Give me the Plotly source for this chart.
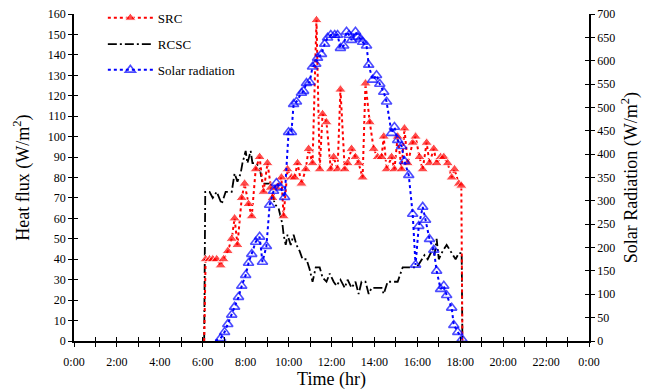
import plotly.graph_objects as go

# ---------------- data ----------------
hour_ticks = list(range(0, 25))
hour_labels = ["0:00", "", "2:00", "", "4:00", "", "6:00", "", "8:00", "", "10:00", "",
               "12:00", "", "14:00", "", "16:00", "", "18:00", "", "20:00", "", "22:00", "", "0:00"]

src_time = ["6:04", "6:08", "6:19", "6:28", "6:39", "6:50", "6:58", "7:10", "7:21", "7:29",
            "7:37", "7:49", "7:57", "8:08", "8:17", "8:28", "8:39", "8:50", "9:01", "9:10",
            "9:15", "9:26", "9:40", "9:46", "9:57", "10:08", "10:17", "10:25", "10:36", "10:48",
            "10:56", "11:07", "11:18", "11:27", "11:35", "11:46", "11:58", "12:06", "12:17", "12:25",
            "12:37", "12:45", "12:56", "13:07", "13:16", "13:27", "13:35", "13:47", "13:58", "14:09",
            "14:20", "14:26", "14:34", "14:48", "14:56", "15:05", "15:16", "15:24", "15:33", "15:47",
            "15:55", "16:06", "16:15", "16:26", "16:34", "16:46", "16:54", "17:05", "17:14", "17:25",
            "17:36", "17:44", "17:56", "18:03", "18:06"]
src_vals = [0, 40, 40, 40, 40, 37, 40, 44, 50, 60,
            47, 70, 77, 67, 61, 84, 90, 73, 87, 75,
            70, 75, 80, 61, 84, 80, 80, 87, 77, 84,
            94, 87, 157, 84, 111, 107, 84, 90, 84, 123,
            84, 87, 94, 90, 87, 80, 126, 107, 94, 90,
            90, 100, 84, 90, 84, 100, 84, 104, 87, 97,
            100, 90, 84, 97, 87, 94, 87, 90, 90, 87,
            80, 84, 77, 76, 0]

rcsc_time = ["6:04", "6:07", "6:19", "6:28", "6:39", "6:53", "7:04", "7:15", "7:21", "7:29",
             "7:37", "7:46", "7:51", "8:00", "8:05", "8:14", "8:19", "8:28", "8:39", "8:47",
             "8:58", "9:10", "9:15", "9:21", "9:32", "9:43", "9:46", "9:52", "9:57", "10:06",
             "10:14", "10:22", "10:31", "10:39", "10:50", "10:59", "11:07", "11:16", "11:27", "11:35",
             "11:46", "11:55", "12:06", "12:14", "12:25", "12:37", "12:45", "12:56", "13:07", "13:16",
             "13:24", "13:35", "13:44", "13:52", "14:06", "14:20", "14:26", "14:37", "15:05", "15:19",
             "15:30", "15:44", "15:58", "16:06", "16:20", "16:29", "16:43", "16:48", "16:54", "17:00",
             "17:11", "17:22", "17:36", "17:47", "17:56", "18:04", "18:06"]
rcsc_vals = [0, 73, 73, 70, 73, 67, 73, 73, 73, 82,
             78, 82, 87, 93, 87, 93, 87, 87, 85, 77,
             77, 77, 73, 67, 65, 57, 52, 47, 52, 47,
             52, 47, 44, 40, 40, 35, 29, 36, 36, 31,
             29, 33, 29, 27, 30, 26, 30, 26, 29, 23,
             29, 29, 23, 26, 26, 26, 23, 29, 29, 36,
             36, 36, 36, 38, 42, 40, 45, 42, 50, 40,
             44, 47, 43, 40, 43, 43, 0]

solar_time = ["6:35", "6:50", "7:01", "7:10", "7:21", "7:29", "7:40", "7:49", "8:00", "8:08",
              "8:17", "8:28", "8:39", "8:47", "8:58", "9:07", "9:18", "9:26", "9:38", "9:49",
              "10:00", "10:08", "10:14", "10:22", "10:36", "10:42", "10:50", "10:59", "11:07", "11:16",
              "11:21", "11:32", "11:41", "11:49", "11:58", "12:09", "12:17", "12:25", "12:34", "12:42",
              "12:49", "12:56", "13:07", "13:13", "13:21", "13:27", "13:38", "13:44", "13:55", "14:06",
              "14:15", "14:26", "14:34", "14:48", "14:56", "15:05", "15:16", "15:24", "15:36", "15:47",
              "15:55", "16:04", "16:15", "16:23", "16:34", "16:46", "16:54", "17:05", "17:14", "17:22",
              "17:36", "17:42", "17:53", "18:05"]
solar_vals = [0, 6, 19, 36, 56, 73, 94, 118, 141, 167,
              186, 212, 223, 169, 203, 291, 321, 338, 328, 308,
              447, 447, 507, 512, 531, 535, 552, 554, 587, 593,
              606, 614, 636, 649, 655, 655, 655, 627, 632, 662,
              655, 644, 662, 651, 647, 640, 632, 591, 559, 569,
              550, 533, 512, 445, 458, 430, 417, 385, 355, 272,
              163, 246, 287, 259, 218, 195, 150, 111, 118, 98,
              71, 34, 19, 4]


def hrs(t):
    h, m = t.split(":")
    return int(h) + int(m) / 60.0


FONT = "Liberation Serif"

src_sizes = [0] + [10] * (len(src_vals) - 2) + [0]
solar_sizes = [0] + [9] * (len(solar_vals) - 1)

fig = go.Figure()

fig.add_trace(go.Scatter(
    x=[hrs(t) for t in rcsc_time], y=rcsc_vals, name="RCSC", mode="lines",
    line=dict(color="black", width=1.8, dash="9px,3px,2px,3px"),
    legend="legend2", xaxis="x", yaxis="y"))

fig.add_trace(go.Scatter(
    x=[hrs(t) for t in solar_time], y=solar_vals, name="Solar radiation", mode="lines+markers",
    line=dict(color="#0000FF", width=2, dash="3px,3px"),
    marker=dict(symbol="triangle-up-open", size=solar_sizes, color="#0000FF",
                line=dict(width=1.6, color="#0000FF")),
    legend="legend3", xaxis="x", yaxis="y2"))

fig.add_trace(go.Scatter(
    x=[hrs(t) for t in src_time], y=src_vals, name="SRC", mode="lines+markers",
    line=dict(color="#FF0000", width=2, dash="3px,3px"),
    marker=dict(symbol="triangle-up", size=src_sizes, color="#FF0000"),
    legend="legend", xaxis="x", yaxis="y"))

# empty helper traces for the inner half of crossing ticks
fig.add_trace(go.Scatter(x=[], y=[], xaxis="x2", yaxis="y3", showlegend=False, hoverinfo="skip"))
fig.add_trace(go.Scatter(x=[], y=[], xaxis="x2", yaxis="y4", showlegend=False, hoverinfo="skip"))

tickfont = dict(family=FONT, size=12, color="black")

fig.update_layout(
    width=649, height=391,
    margin=dict(l=74, r=60, t=14, b=50, autoexpand=False),
    paper_bgcolor="white", plot_bgcolor="white",
    font=dict(family=FONT, color="black"),
    xaxis=dict(range=[0, 24], tickvals=hour_ticks, ticktext=hour_labels,
               ticks="outside", ticklen=4, tickwidth=1.3, tickcolor="black",
               showline=True, linecolor="black", linewidth=1.5, showgrid=False,
               zeroline=False, tickfont=tickfont, ticklabelstandoff=5, automargin=False,
               title=dict(text="Time (hr)", font=dict(family=FONT, size=18), standoff=4)),
    xaxis2=dict(range=[0, 24], overlaying="x", anchor="y", tickvals=hour_ticks,
                ticks="inside", ticklen=4, tickwidth=1.3, tickcolor="black",
                showticklabels=False, showline=False, showgrid=False, zeroline=False),
    yaxis=dict(range=[0, 160], dtick=10, tick0=0, ticks="outside", ticklen=4, tickwidth=1.3,
               tickcolor="black", showline=True, linecolor="black", linewidth=1.5,
               showgrid=False, zeroline=False, tickfont=tickfont, automargin=False,
               title=dict(text="Heat flux (W/m<sup>2</sup>)", font=dict(family=FONT, size=18),
                          standoff=14)),
    yaxis2=dict(range=[0, 700], dtick=50, tick0=0, overlaying="y", side="right", anchor="x",
                ticks="outside", ticklen=4, tickwidth=1.3, tickcolor="black",
                showline=True, linecolor="black", linewidth=1.5, showgrid=False,
                zeroline=False, tickfont=tickfont, automargin=False,
                title=dict(text="Solar Radiation (W/m<sup>2</sup>)",
                           font=dict(family=FONT, size=18), standoff=10)),
    yaxis3=dict(range=[0, 160], dtick=10, tick0=0, overlaying="y", side="left", anchor="x2",
                ticks="inside", ticklen=4, tickwidth=1.3, tickcolor="black",
                showticklabels=False, showline=False, showgrid=False, zeroline=False),
    yaxis4=dict(range=[0, 700], dtick=50, tick0=0, overlaying="y", side="right", anchor="x2",
                ticks="inside", ticklen=4, tickwidth=1.3, tickcolor="black",
                showticklabels=False, showline=False, showgrid=False, zeroline=False),
    legend=dict(x=0.056, y=0.988, xanchor="left", yanchor="middle", itemwidth=45,
                bgcolor="rgba(0,0,0,0)", font=dict(family=FONT, size=13)),
    legend2=dict(x=0.056, y=0.908, xanchor="left", yanchor="middle", itemwidth=45,
                 bgcolor="rgba(0,0,0,0)", font=dict(family=FONT, size=13)),
    legend3=dict(x=0.056, y=0.829, xanchor="left", yanchor="middle", itemwidth=45,
                 bgcolor="rgba(0,0,0,0)", font=dict(family=FONT, size=13)),
    showlegend=True,
)

fig.write_html("out.html")
